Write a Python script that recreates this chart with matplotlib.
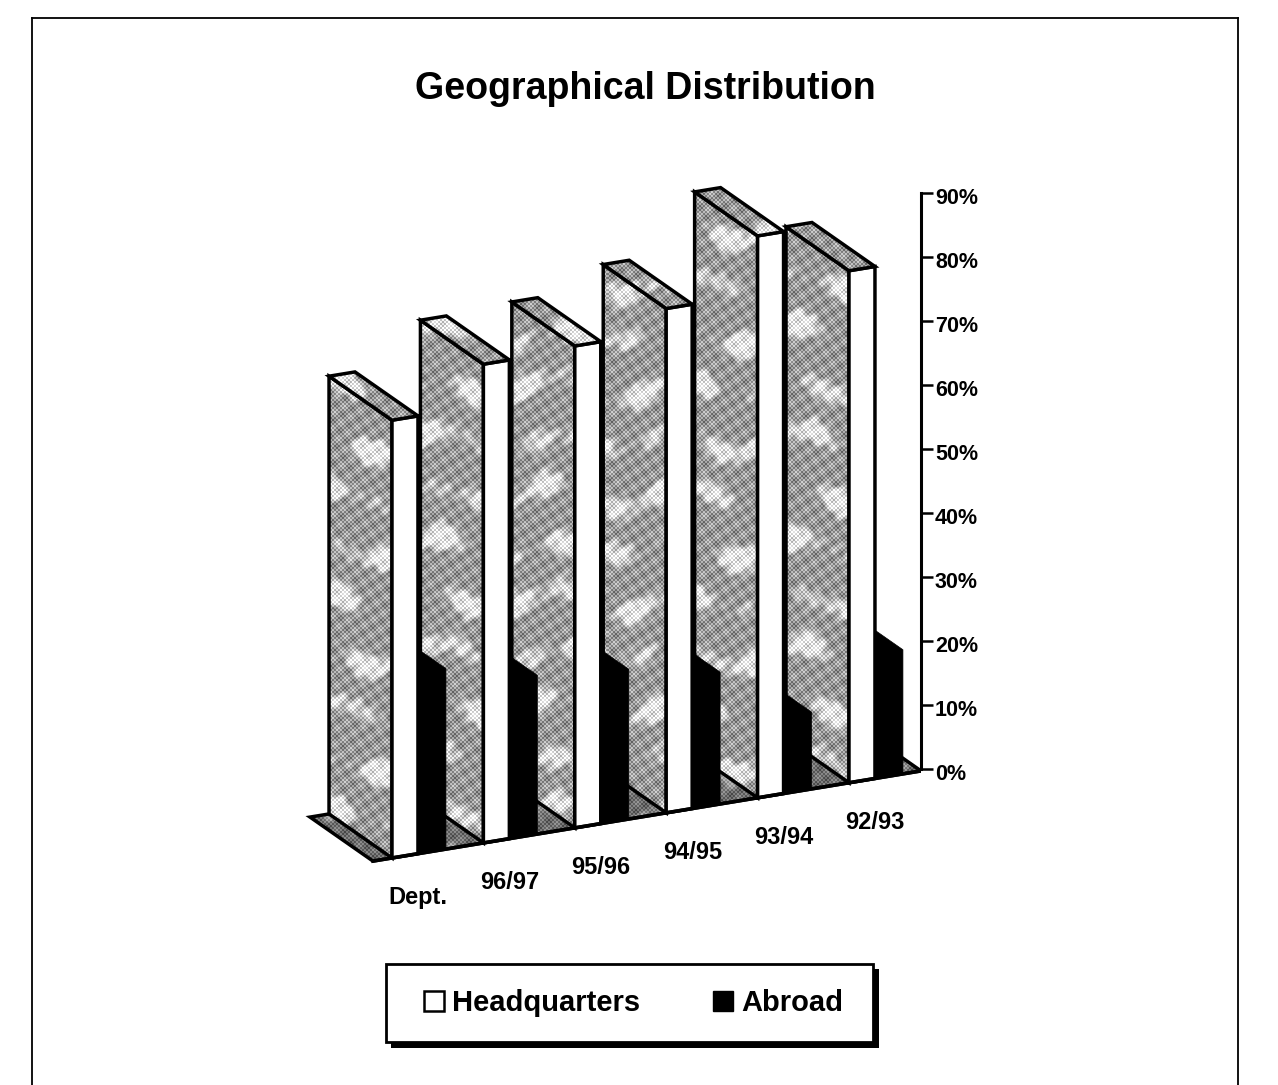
import numpy as np
import matplotlib
matplotlib.use("Agg")
import matplotlib.pyplot as plt
from matplotlib.lines import Line2D
from matplotlib.patches import Patch, Polygon, Rectangle
from matplotlib.transforms import ScaledTranslation

plt.rcParams["font.family"] = ["Liberation Sans", "DejaVu Sans"]
plt.rcParams["font.weight"] = "bold"

# Data
categories = ["Dept.", "96/97", "95/96", "94/95", "93/94", "92/93"]
headquarters = [68.4, 74.8, 75.3, 78.8, 87.8, 80.0]
abroad = [28.2, 24.8, 23.4, 20.6, 12.0, 19.4]
y_ticks = [0, 10, 20, 30, 40, 50, 60, 70, 80, 90]

W, H = 1278, 1085
fig = plt.figure(figsize=(W / 100, H / 100), dpi=100)

# Axes box in pixels, y axis is the real percent scale
left, right, top, bottom = 290, 921, 161, 880
ax = fig.add_axes([left / W, 1 - bottom / H, (right - left) / W, (bottom - top) / H])
ax.patch.set_alpha(0)

PITCH = 91.4           # px per category
PCT = 6.4              # px per percent
x_min = (left - 392) / PITCH
x_max = (right - 392) / PITCH
y_min = -(bottom - 769) / PCT
y_max = (769 - top) / PCT


# Oblique projection: p = position along the front, d = depth 0..1, v = percent
def pt(p, d, v):
    return (p - 0.689 * d, -13.9 + 2.35 * p + 6.875 * d + v)


# Blotchy scanned halftone for the shaded faces
nx, ny = right - left, bottom - top
xx, yy = np.meshgrid(np.arange(nx), np.arange(ny))
bands = (np.sin(yy / 8.5 + 1.2 * np.sin(xx / 19.0))
         + 0.7 * np.sin(yy / 17.0 + xx / 29.0)
         + 0.5 * np.sin(xx / 9.1 - yy / 41.0)
         + 0.25 * np.sin(xx / 3.3 + yy / 4.1))
tone = (0.60
        + 0.06 * np.sin(xx / 3.7 + yy / 2.3)
        + 0.05 * np.sin(xx / 2.1 - yy / 3.3)
        + 0.30 * np.clip(bands - 0.35, 0, 1))
tone = tone + 0.12 * (((xx // 2 + yy // 2) % 2) * 2 - 1)
tone = np.clip(tone, 0, 1)
floor_tone = tone * 0.72

z = 1


def textured(points, lw=2.5, tex=tone):
    global z
    poly = Polygon(points, closed=True, facecolor="none", edgecolor="none", zorder=z)
    ax.add_patch(poly)
    im = ax.imshow(tex, extent=(x_min, x_max, y_min, y_max), origin="upper",
                   cmap="gray", vmin=0, vmax=1, aspect="auto",
                   interpolation="nearest", zorder=z)
    im.set_clip_path(poly)
    ax.add_patch(Polygon(points, closed=True, facecolor="none", edgecolor="black",
                         linewidth=lw, joinstyle="miter", zorder=z + 0.5))
    z += 1


def solid(points, color, lw=2.5):
    global z
    ax.add_patch(Polygon(points, closed=True, facecolor=color, edgecolor="black",
                         linewidth=lw, joinstyle="miter", zorder=z))
    z += 1


w_hq = 0.284
w_ab = 0.306
floor_l, floor_r = -0.208, 5.788

# Floor first, everything stands on it
textured([pt(floor_l, 0, 0), pt(floor_r, 0, 0), pt(floor_r, 1, 0), pt(floor_l, 1, 0)],
         tex=floor_tone)

# Back to front, from the right
for i in reversed(range(len(categories))):
    p = float(i)
    pr = p + w_hq + w_ab
    a = abroad[i]
    solid([pt(p + w_hq, 0, 0), pt(pr, 0, 0), pt(pr, 0, a), pt(pr, 1, a)], "black", lw=0.5)
    v = headquarters[i]
    textured([pt(p, 0, 0), pt(p, 0, v), pt(p, 1, v), pt(p, 1, 0)])
    solid([pt(p, 0, 0), pt(p + w_hq, 0, 0), pt(p + w_hq, 0, v), pt(p, 0, v)], "white")
    textured([pt(p, 0, v), pt(p + w_hq, 0, v), pt(p + w_hq, 1, v), pt(p, 1, v)])

# Front edge of the floor
x0, y0 = pt(floor_l, 0, 0)
x1, y1 = pt(floor_r, 0, 0)
ax.plot([x0, x1], [y0, y1], color="black", linewidth=2.6, zorder=z)

# Category labels hang under the front edge
for i, name in enumerate(categories):
    lx, ly = pt(i + 0.285, 0, -7.9)
    ax.text(lx, ly, name, ha="center", va="baseline", fontsize=17, fontweight="bold")

ax.set_xlim(x_min, x_max)
ax.set_ylim(y_min, y_max)
ax.set_xticks([])
ax.yaxis.tick_right()
ax.set_yticks(y_ticks)
ax.set_yticklabels([f"{t}%" for t in y_ticks], fontsize=15.5, fontweight="bold")
ax.tick_params(axis="y", length=8.6, width=1.8, pad=1.5, color="black")
down = ScaledTranslation(0, -3.5 / 100, fig.dpi_scale_trans)
for lab in ax.get_yticklabels():
    lab.set_transform(lab.get_transform() + down)
for s in ["left", "top", "bottom"]:
    ax.spines[s].set_visible(False)
ax.spines["right"].set_bounds(0, 90)
ax.spines["right"].set_linewidth(2.2)

fig.text(645 / W, 1 - 89 / H, "Geographical Distribution", ha="center", va="center",
         fontsize=27, fontweight="bold")

# Page frame, runs off the bottom of the scan
for xs, ys in [([32, 32], [H, 18]), ([32, 1238], [18, 18]), ([1238, 1238], [18, H])]:
    fig.add_artist(Line2D([a / W for a in xs], [1 - b / H for b in ys],
                          color="black", linewidth=1.3))

# Legend box with a hard shadow
fig.add_artist(Rectangle((391 / W, 1 - 1048 / H), 488 / W, 79 / H, facecolor="black",
                         edgecolor="none", transform=fig.transFigure, zorder=3))
fig.add_artist(Rectangle((386 / W, 1 - 1042 / H), 487 / W, 78 / H, facecolor="white",
                         edgecolor="black", linewidth=2, transform=fig.transFigure, zorder=4))
handles = [Patch(facecolor="white", edgecolor="black", linewidth=1.8),
           Patch(facecolor="black", edgecolor="black")]
leg = fig.legend(handles, ["Headquarters", "Abroad"], loc="center", ncol=2,
                 bbox_to_anchor=(633.5 / W, 1 - 1003 / H), frameon=False,
                 prop={"size": 21, "weight": "bold", "family": "Liberation Sans"},
                 handlelength=0.68, handleheight=0.68, handletextpad=0.28, columnspacing=2.5)
leg.set_zorder(5)

fig.savefig("out.png", dpi=100)
